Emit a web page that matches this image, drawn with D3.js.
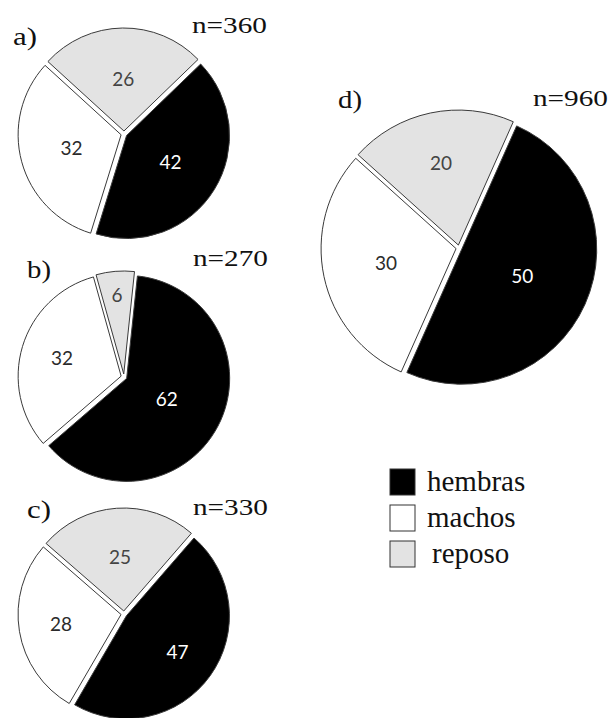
<!DOCTYPE html>
<html>
<head>
<meta charset="utf-8">
<script src="https://cdn.jsdelivr.net/npm/d3@7"></script>
<style>
  html, body { margin: 0; padding: 0; background: #fff; }
  svg { display: block; }
</style>
</head>
<body>
<div id="chart"></div>
<script>
const categories = ['hembras', 'machos', 'reposo'];
const panelNames = ['a)', 'b)', 'c)', 'd)'];
const totals = [360, 270, 330, 960];
const valuesA = [42, 32, 26];
const valuesB = [62, 32, 6];
const valuesC = [47, 28, 25];
const valuesD = [50, 30, 20];
const seriesValues = [valuesA, valuesB, valuesC, valuesD];

// layout of each pie (not data)
const layout = [
  { cx: 124, cy: 134, r: 103, start: 46, labelR: [0.5, 0.5, 0.5] },
  { cx: 124, cy: 377, r: 103, start: 6, labelR: [0.44, 0.6, 0.77] },
  { cx: 124, cy: 614, r: 103, start: 41, labelR: [0.61, 0.59, 0.52] },
  { cx: 459, cy: 248, r: 135, start: 24, labelR: [0.49, 0.53, 0.62] }
];
const panelLabelPos = [[13, 45], [27, 278], [27, 518], [338, 108]];
const totalLabelPos = [[192, 33], [193, 266], [193, 515], [533, 106]];

const serif = "'Liberation Serif', 'Times New Roman', serif";
const sans = "Lato, 'Open Sans', sans-serif";

const fills = d3.scaleOrdinal().domain(categories).range(['#000000', '#ffffff', '#e3e3e3']);
const textFills = d3.scaleOrdinal().domain(categories).range(['#ffffff', '#2b2b2b', '#444444']);

const width = 612;
const height = 718;
const explode = 3;

const svg = d3.select('#chart')
  .append('svg')
  .attr('width', width)
  .attr('height', height)
  .attr('viewBox', `0 0 ${width} ${height}`);

svg.append('rect').attr('width', width).attr('height', height).attr('fill', '#fff');

seriesValues.forEach((values, i) => {
  const L = layout[i];
  const rows = categories.map((c, k) => ({ cat: c, value: values[k], k }));
  const start = L.start * Math.PI / 180;
  const pie = d3.pie()
    .sort(null)
    .value((d) => d.value)
    .startAngle(start)
    .endAngle(start + 2 * Math.PI);
  const arcs = pie(rows);
  const arc = d3.arc().innerRadius(0).outerRadius(L.r);

  const g = svg.append('g').attr('transform', `translate(${L.cx},${L.cy})`);

  // exploded slices: push each one out along its bisector
  const offset = (d) => {
    const mid = (d.startAngle + d.endAngle) / 2;
    return [Math.sin(mid) * explode, -Math.cos(mid) * explode];
  };

  g.selectAll('path')
    .data(arcs)
    .join('path')
    .attr('d', arc)
    .attr('transform', (d) => `translate(${offset(d)})`)
    .attr('fill', (d) => fills(d.data.cat))
    .attr('stroke', '#3a3a3a')
    .attr('stroke-width', 1)
    .attr('stroke-linejoin', 'round');

  g.selectAll('text')
    .data(arcs)
    .join('text')
    .attr('transform', (d) => {
      const lr = L.r * L.labelR[d.data.k];
      const c = d3.arc().innerRadius(lr).outerRadius(lr).centroid(d);
      const o = offset(d);
      return `translate(${c[0] + o[0]},${c[1] + o[1]})`;
    })
    .attr('text-anchor', 'middle')
    .attr('dy', '0.36em')
    .style('font-family', sans)
    .style('font-size', '19px')
    .attr('fill', (d) => textFills(d.data.cat))
    .text((d) => d.data.value);

  svg.append('text')
    .attr('x', panelLabelPos[i][0])
    .attr('y', panelLabelPos[i][1])
    .attr('textLength', 24)
    .attr('lengthAdjust', 'spacingAndGlyphs')
    .style('font-family', serif)
    .style('font-size', '25px')
    .attr('fill', '#111')
    .text(panelNames[i]);

  svg.append('text')
    .attr('x', totalLabelPos[i][0])
    .attr('y', totalLabelPos[i][1])
    .attr('textLength', 75)
    .attr('lengthAdjust', 'spacingAndGlyphs')
    .style('font-family', serif)
    .style('font-size', '24px')
    .attr('fill', '#111')
    .text(`n=${totals[i]}`);
});

// legend
const legendY = d3.scaleBand().domain(categories).range([469, 577]).paddingInner(0);
const legend = svg.append('g');
legend.selectAll('rect')
  .data(categories)
  .join('rect')
  .attr('x', 390)
  .attr('y', (d) => legendY(d))
  .attr('width', 25)
  .attr('height', 26)
  .attr('fill', (d) => fills(d))
  .attr('stroke', '#333')
  .attr('stroke-width', 1);
legend.selectAll('text')
  .data(categories)
  .join('text')
  .attr('x', (d, k) => (k === 2 ? 432 : 427))
  .attr('y', (d) => legendY(d) + 22)
  .style('font-family', serif)
  .style('font-size', '29px')
  .attr('fill', '#111')
  .text((d) => d);
</script>
</body>
</html>
